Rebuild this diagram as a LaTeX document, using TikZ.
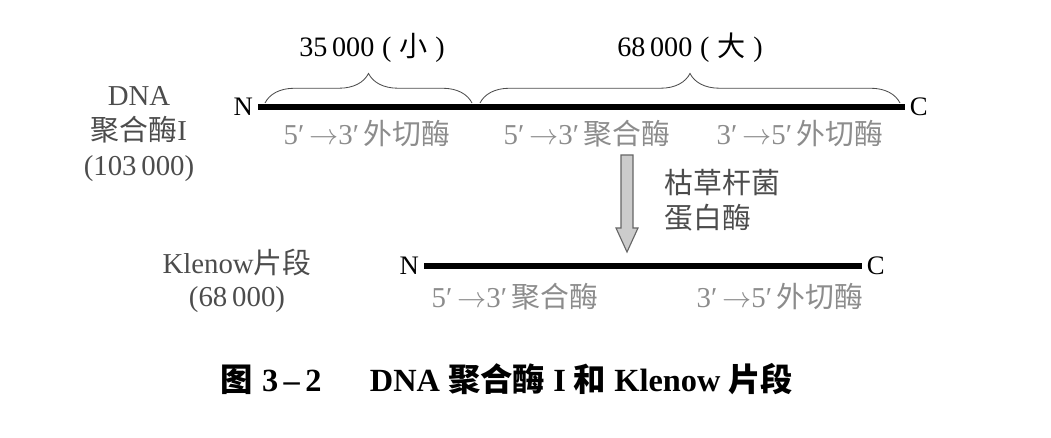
\documentclass[tikz,border=0pt]{standalone}
\usepackage{fontspec}
\setmainfont{Liberation Serif}
\newfontfamily\cjk{Noto Sans CJK SC}
\usetikzlibrary{decorations.pathreplacing}
\newcommand{\dir}[2]{#1′\,$\rightarrow$#2′\,}
\tikzset{
    chain/.style={line width=3.6pt},
    term/.style={font=\fontsize{19}{20}\selectfont},
    part/.style={text=black!45, font=\fontsize{20.5}{22}\selectfont},
    side/.style={text=black!70, font=\fontsize{20.5}{25}\selectfont, align=center},
    span/.style={decorate, decoration={brace, amplitude=21pt}, black!70, semithick},
    cut/.style={fill=black!20, draw=black!60, thick, line join=miter}
}

\begin{document}
\begin{tikzpicture}[x=0.025cm, y=-0.025cm]
    \useasboundingbox (0,0) rectangle (1051,438);

    % Whole enzyme
    \coordinate (a1) at (258,107);
    \coordinate (a2) at (905,107);
    \draw[chain] (a1) -- (a2);
    \node[term, left] (n1) at (a1) {N};
    \node[term, right] (c1) at (a2) {C};

    % Braces over the chain
    \coordinate (b1) at (265,103);
    \coordinate (b2) at (472,103);
    \coordinate (b3) at (480,103);
    \coordinate (b4) at (900,103);
    \draw[span] (b1) -- (b2);
    \draw[span] (b3) -- (b4);
    \node[term, font=\fontsize{20}{22}\selectfont] (small) at (372,48) {35\,000\;(\;{\cjk 小}\;)};
    \node[term, font=\fontsize{20}{22}\selectfont] (large) at (690,48) {68\,000\;(\;{\cjk 大}\;)};

    % Domains of the whole enzyme
    \node[part] (exo1) at (367,134) {\dir53{\cjk 外切酶}};
    \node[part] (pol1) at (587,134) {\dir53{\cjk 聚合酶}};
    \node[part] (exo2) at (800,134) {\dir35{\cjk 外切酶}};
    \node[side] (pol) at (139,134) {DNA\\{\cjk 聚合酶}I\\(103\,000)};

    % Cleavage
    \coordinate (t1) at (621,155);
    \coordinate (t2) at (633,155);
    \coordinate (tip) at (627,252);
    \draw[cut] (t1) -- (t1 |- 0,228) -- (616,228) -- (tip)
        -- (638,228) -- (t2 |- 0,228) -- (t2) -- cycle;
    \node[side, anchor=west, align=left] (subt) at (660,200) {{\cjk 枯草杆菌}\\{\cjk 蛋白酶}};

    % Klenow fragment
    \coordinate (k1) at (424,266);
    \coordinate (k2) at (862,266);
    \draw[chain] (k1) -- (k2);
    \node[term, left] (n2) at (k1) {N};
    \node[term, right] (c2) at (k2) {C};
    \node[part] (pol2) at (515,297) {\dir53{\cjk 聚合酶}};
    \node[part] (exo3) at (780,297) {\dir35{\cjk 外切酶}};
    \node[side, font=\fontsize{20.5}{23}\selectfont] (klen) at (237,281) {Klenow{\cjk 片段}\\(68\,000)};

    % Caption
    \node[font=\fontsize{23}{25}\selectfont\bfseries] (cap) at (507,379)
        {{\cjk 图}\;3\,–\,2\hspace{1.5em}DNA {\cjk 聚合酶} I {\cjk 和} Klenow {\cjk 片段}};
\end{tikzpicture}
\end{document}
